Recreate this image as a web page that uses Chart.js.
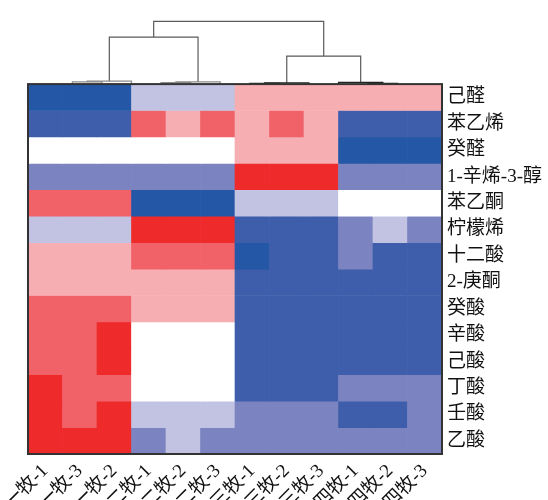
<!DOCTYPE html>
<html>
<head>
<meta charset="utf-8">
<script src="https://cdn.jsdelivr.net/npm/chart.js@4/dist/chart.umd.min.js"></script>
<style>
  html, body { margin: 0; padding: 0; background: #ffffff; }
  #wrap { width: 548px; height: 500px; }
</style>
</head>
<body>
<div id="wrap"><canvas id="c" width="548" height="500"></canvas></div>
<script>
// ---- data ----
const colNames = ['一牧-1','一牧-3','一牧-2','二牧-1','二牧-2','二牧-3','三牧-1','三牧-2','三牧-3','四牧-1','四牧-2','四牧-3'];
const rowNames = ['己醛','苯乙烯','癸醛','1-辛烯-3-醇','苯乙酮','柠檬烯','十二酸','2-庚酮','癸酸','辛酸','己酸','丁酸','壬酸','乙酸'];
// discrete scaled levels (-4 .. 3) per row, columns in colNames order
const r_jiquan      = [-4,-4,-4,-1,-1,-1, 1, 1, 1, 1, 1, 1];
const r_benyixi     = [-3,-3,-3, 2, 1, 2, 1, 2, 1,-3,-3,-3];
const r_guiquan     = [ 0, 0, 0, 0, 0, 0, 1, 1, 1,-4,-4,-4];
const r_xinxichun   = [-2,-2,-2,-2,-2,-2, 3, 3, 3,-2,-2,-2];
const r_benyitong   = [ 2, 2, 2,-4,-4,-4,-1,-1,-1, 0, 0, 0];
const r_ningmengxi  = [-1,-1,-1, 3, 3, 3,-3,-3,-3,-2,-1,-2];
const r_shiersuan   = [ 1, 1, 1, 2, 2, 2,-4,-3,-3,-2,-3,-3];
const r_gengtong    = [ 1, 1, 1, 1, 1, 1,-3,-3,-3,-3,-3,-3];
const r_guisuan     = [ 2, 2, 2, 1, 1, 1,-3,-3,-3,-3,-3,-3];
const r_xinsuan     = [ 2, 2, 3, 0, 0, 0,-3,-3,-3,-3,-3,-3];
const r_jisuan      = [ 2, 2, 3, 0, 0, 0,-3,-3,-3,-3,-3,-3];
const r_dingsuan    = [ 3, 2, 2, 0, 0, 0,-3,-3,-3,-2,-2,-2];
const r_rensuan     = [ 3, 2, 3,-1,-1,-1,-2,-2,-2,-3,-3,-2];
const r_yisuan      = [ 3, 3, 3,-2,-1,-2,-2,-2,-2,-2,-2,-2];
const rowValues = [r_jiquan, r_benyixi, r_guiquan, r_xinxichun, r_benyitong, r_ningmengxi,
  r_shiersuan, r_gengtong, r_guisuan, r_xinsuan, r_jisuan, r_dingsuan, r_rensuan, r_yisuan];

// column dendrogram: [left node, right node, merge height]; 'cN' = leaf column N, 'mN' = earlier merge N
const dendroMerges = [
  ['c0','c1', 2.2],
  ['m0','c2', 3.0],
  ['c3','c4', 1.6],
  ['m2','c5', 2.2],
  ['c6','c7', 0.8],
  ['m4','c8', 1.3],
  ['c10','c11', 0.8],
  ['c9','m6', 1.8],
  ['m1','m3', 47.7],
  ['m5','m7', 28.4],
  ['m8','m9', 63.7]
];

// ---- styling ----
const levelColors = {
  '-4': '#2457a5', '-3': '#3e5daa', '-2': '#7b84c1', '-1': '#c2c3e2',
  '0': '#ffffff', '1': '#f7aeb3', '2': '#f06268', '3': '#ee2a2b'
};
const FONT = "'Liberation Serif', 'Noto Sans CJK SC', serif";

// heatmap datasets: one floating bar dataset per row
const heatSets = rowValues.map((vals, r) => ({
  type: 'bar',
  label: rowNames[r],
  data: vals.map(() => [r, r + 1]),
  backgroundColor: vals.map(v => levelColors[String(v)]),
  borderWidth: 0,
  grouped: false,
  barPercentage: 1,
  categoryPercentage: 1,
  xAxisID: 'x',
  yAxisID: 'y',
  order: 2
}));

// dendrogram datasets
const nodes = {};
colNames.forEach((_, i) => { nodes['c' + i] = { x: i, h: 0 }; });
const dendroSets = dendroMerges.map(([a, b, h], i) => {
  const A = nodes[a], B = nodes[b];
  nodes['m' + i] = { x: (A.x + B.x) / 2, h: h };
  const big = h > 10;
  return {
    type: 'line',
    data: [{x: A.x, y: A.h}, {x: A.x, y: h}, {x: B.x, y: h}, {x: B.x, y: B.h}],
    borderColor: big ? '#5a5a5a' : (i >= 4 && i <= 7 ? '#222222' : '#8a8a8a'),
    borderWidth: 1.2,
    pointRadius: 0,
    tension: 0,
    fill: false,
    xAxisID: 'xd',
    yAxisID: 'yd',
    clip: false,
    order: 1
  };
});

const framePlugin = {
  id: 'frame',
  afterDatasetsDraw(chart) {
    const {ctx, scales: {x, y}} = chart;
    const left = x.left, right = x.right;
    const top = y.getPixelForValue(0), bottom = y.getPixelForValue(rowNames.length);
    ctx.save();
    ctx.strokeStyle = '#333333';
    ctx.lineWidth = 2;
    ctx.strokeRect(left, top, right - left, bottom - top);
    ctx.restore();
  }
};

new Chart(document.getElementById('c'), {
  type: 'bar',
  data: { labels: colNames, datasets: [...heatSets, ...dendroSets] },
  options: {
    responsive: false,
    animation: false,
    devicePixelRatio: 1,
    layout: { padding: { left: 28, top: 10, right: 0, bottom: 0 } },
    plugins: { legend: { display: false }, tooltip: { enabled: false } },
    scales: {
      x: {
        type: 'category',
        position: 'bottom',
        offset: true,
        grid: { display: false, drawTicks: false },
        border: { display: false },
        ticks: {
          autoSkip: false, minRotation: 45, maxRotation: 45, padding: 6,
          color: '#111111', font: { family: FONT, size: 19 }
        },
        afterFit(s) { s.height = 46; }
      },
      y: {
        type: 'linear',
        position: 'right',
        reverse: true,
        min: -2.5625,
        max: 14,
        grid: { display: false, drawTicks: false },
        border: { display: false },
        afterBuildTicks(s) { s.ticks = rowNames.map((_, r) => ({ value: r + 0.5 })); },
        ticks: {
          autoSkip: false, padding: 5, color: '#111111',
          font: { family: FONT, size: 19 },
          callback: (v, i) => rowNames[i]
        },
        afterFit(s) { s.width = 106; }
      },
      xd: { type: 'linear', display: false, min: -0.5, max: 11.5 },
      yd: { type: 'linear', display: false, min: -375.3, max: 68.7 }
    }
  },
  plugins: [framePlugin]
});
</script>
</body>
</html>
